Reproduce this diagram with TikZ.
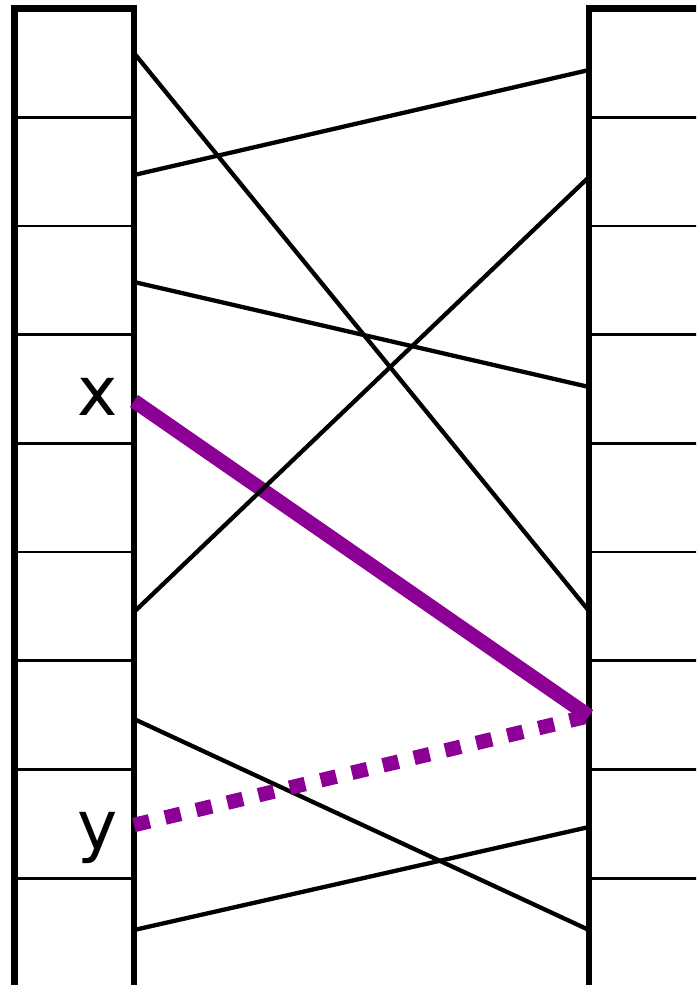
\documentclass[tikz,border=0pt]{standalone}
\usepackage{fontspec}
\setmainfont{DejaVu Sans}
\usepackage{xcolor}
\usetikzlibrary{positioning}
\definecolor{linkpurple}{RGB}{140,0,150}

\begin{document}
\begin{tikzpicture}[x=1pt, y=-1pt,
        frame/.style={line width=6.5pt},
        cellline/.style={line width=2.8pt},
        link/.style={line width=4.3pt},
        hotlink/.style={draw=linkpurple, line width=14.5pt},
        dotlink/.style={draw=linkpurple, line width=14.5pt, dash pattern=on 16pt off 16pt},
        every node/.style={font=\fontsize{68}{80}\selectfont, inner sep=0pt}]
        \useasboundingbox (0,0) rectangle (696,985);
        \clip (0,0) rectangle (696,985);
        % the two columns of cells
        \draw[frame] (14.5,995) -- (14.5,8.5) -- (134,8.5) -- (134,995);
        \draw[frame] (589,995) -- (589,8.5) -- (705,8.5);
        \foreach \k in {1,...,8} {
            \draw[cellline] (14.5,8.5+108.7*\k) -- (134,8.5+108.7*\k);
            \draw[cellline] (589,8.5+108.7*\k) -- (705,8.5+108.7*\k);
        }
        % end points on the left column
        \coordinate (la) at (134,53);
        \coordinate (lb) at (134,175);
        \coordinate (lc) at (134,282);
        \coordinate (lx) at (134,401);
        \coordinate (ld) at (134,612);
        \coordinate (le) at (134,719);
        \coordinate (ly) at (134,825);
        \coordinate (lf) at (134,930);
        % end points on the right column
        \coordinate (ra) at (589,70);
        \coordinate (rb) at (589,177);
        \coordinate (rc) at (589,387);
        \coordinate (rd) at (589,611);
        \coordinate (rx) at (589,716);
        \coordinate (re) at (589,827);
        \coordinate (rf) at (589,930);
        \node[anchor=base] (xlabel) at (98,415) {x};
        \node[anchor=base] (ylabel) at (98,849) {y};
        \draw[hotlink] (lx) -- (rx);
        \draw[link] (la) -- (rd);
        \draw[link] (lb) -- (ra);
        \draw[link] (lc) -- (rc);
        \draw[link] (ld) -- (rb);
        \draw[link] (le) -- (rf);
        \draw[link] (lf) -- (re);
        \draw[dotlink] (ly) -- (rx);
    \end{tikzpicture}
\end{document}
